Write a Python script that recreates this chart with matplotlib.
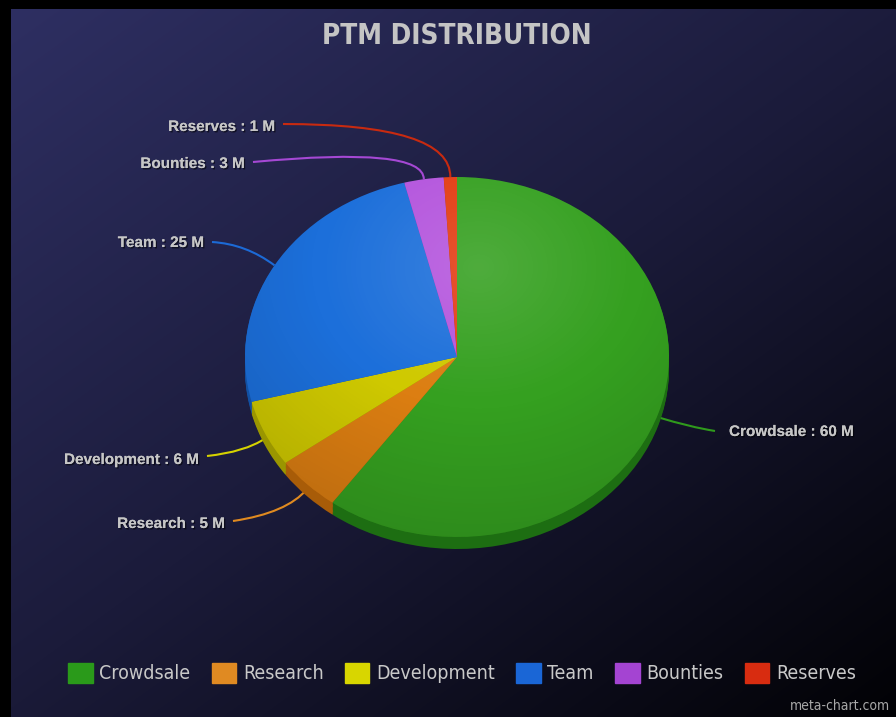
import numpy as np
import matplotlib
matplotlib.use('Agg')
import matplotlib.pyplot as plt
import matplotlib.patheffects as pe
from matplotlib.path import Path
from matplotlib.patches import PathPatch, Patch, Circle

# data
labels = ['Crowdsale', 'Research', 'Development', 'Team', 'Bounties', 'Reserves']
values = [60, 5, 6, 25, 3, 1]
unit = 'M'

top_colors = ['#35a020', '#dc7e12', '#cfc900', '#1c6fda', '#b455dd', '#e33c12']
side_colors = ['#1d6e12', '#a85c08', '#9a9600', '#1250a2', '#8436aa', '#a82c08']
line_colors = ['#2f9a1c', '#e08a20', '#d6d200', '#1c6ad6', '#a548d4', '#c82a10']
legend_colors = ['#2a9a1a', '#e08a22', '#d8d600', '#1a66d6', '#a444d2', '#d82c10']

# layout in pixels
W, H = 896, 717
cx, cy, rx, ry, depth = 457, 357, 212, 180, 12
# where each connector ends (x, y), its bend point and the label baseline nudge
line_ends = [(715, 431), (233, 521), (207, 456), (212, 242), (253, 162), (283, 124)]
bends = [(690, 427), (287, 513), (245, 452), (246, 244), (424, 146), (451, 124)]
text_dy = [1, 3, 4, 1, 2, 3]

fig = plt.figure(figsize=(W / 100, H / 100), dpi=100)
fig.patch.set_facecolor('black')

bg = fig.add_axes([0, 0, 1, 1])
bg.set_xlim(0, W)
bg.set_ylim(H, 0)
bg.axis('off')

# diagonal background gradient
yy, xx = np.mgrid[0:1:300j, 0:1:300j]
t = np.clip((xx * 0.9 + yy * 1.0) / 1.9, 0, 1)
c0 = np.array([0x2e, 0x2f, 0x62]) / 255
c1 = np.array([0x1b, 0x1b, 0x3a]) / 255
c2 = np.array([0x02, 0x02, 0x05]) / 255
img = np.where(t[..., None] < 0.5,
               c0 + (c1 - c0) * (t[..., None] / 0.5),
               c1 + (c2 - c1) * ((t[..., None] - 0.5) / 0.5))
bg.imshow(img, extent=(11, W, H, 9), aspect='auto', zorder=0, interpolation='bilinear')

# pie axes, stretched into an ellipse
pax = fig.add_axes([(cx - rx) / W, 1 - (cy + ry + depth) / H, 2 * rx / W, (2 * ry + depth) / H])
d = depth / ry
for off in np.linspace(d, 0.005, 10):
    pax.pie(values, colors=side_colors, startangle=90, counterclock=False,
            center=(0, -off), radius=1, wedgeprops=dict(linewidth=0))
wedges, _ = pax.pie(values, colors=top_colors, startangle=90, counterclock=False,
                    center=(0, 0), radius=1, wedgeprops=dict(linewidth=0))
pax.set_aspect('auto')

# soft radial shading on the top face
gy, gx = np.mgrid[1:-1:200j, -1:1:200j]
r = np.hypot(gx - 0.1, gy - 0.5)
s = 0.13 - 0.17 * r
shade = np.zeros((200, 200, 4))
shade[..., :3] = np.where(s[..., None] > 0, 1.0, 0.0)
shade[..., 3] = np.clip(np.abs(s), 0, 0.25)
im = pax.imshow(shade, extent=(-1, 1, -1, 1), aspect='auto', zorder=5, interpolation='bilinear')
im.set_clip_path(Circle((0, 0), 1, transform=pax.transData))
pax.set_xlim(-1, 1)
pax.set_ylim(-1 - d, 1)
pax.axis('off')

# connectors and labels
shadow = [pe.withSimplePatchShadow(offset=(1, -1), shadow_rgbFace='black', alpha=0.55), pe.Normal()]
total = sum(values)
cum = np.cumsum(values)
for i, (lab, v) in enumerate(zip(labels, values)):
    mid = np.radians(90 - 360 * (cum[i] - v / 2) / total)
    ax0 = cx + rx * np.cos(mid)
    ay0 = cy - ry * np.sin(mid)
    if np.sin(mid) < 0:
        ay0 += depth * 0.4
    ex, ey = line_ends[i]
    path = Path([(ax0, ay0), bends[i], (ex, ey)], [Path.MOVETO, Path.CURVE3, Path.CURVE3])
    bg.add_patch(PathPatch(path, facecolor='none', edgecolor=line_colors[i], lw=1.5, zorder=3))
    txt = f'{lab} : {v} {unit}'
    if ex > cx:
        bg.text(ex + 14, ey + text_dy[i], txt, ha='left', va='center', fontsize=11, fontweight='bold',
                family='Liberation Sans', color='#c6c6c6', path_effects=shadow, zorder=4)
    else:
        bg.text(ex - 8, ey + text_dy[i], txt, ha='right', va='center', fontsize=11, fontweight='bold',
                family='Liberation Sans', color='#c6c6c6', path_effects=shadow, zorder=4)

bg.text(457, 36, 'PTM DISTRIBUTION', ha='center', va='center', fontsize=20, fontweight='bold',
        family='DejaVu Sans', fontstretch='condensed', color='#c4c4c4', zorder=4)

handles = [Patch(facecolor=c, edgecolor=c, label=l) for c, l in zip(legend_colors, labels)]
fig.legend(handles=handles, loc='center', bbox_to_anchor=(462 / W, 1 - 673 / H), ncol=6,
           frameon=False, fontsize=14, labelcolor='#c8c8c8', handlelength=1.25, handleheight=1.25,
           handletextpad=0.35, columnspacing=1.1, borderaxespad=0,
           prop=dict(family='DejaVu Sans', stretch='condensed', size=14))

bg.text(890, 706, 'meta-chart.com', ha='right', va='center', fontsize=10,
        family='DejaVu Sans', fontstretch='condensed', color='#a8a8a8', zorder=4)

fig.savefig('out.png', dpi=100, facecolor=fig.get_facecolor())
